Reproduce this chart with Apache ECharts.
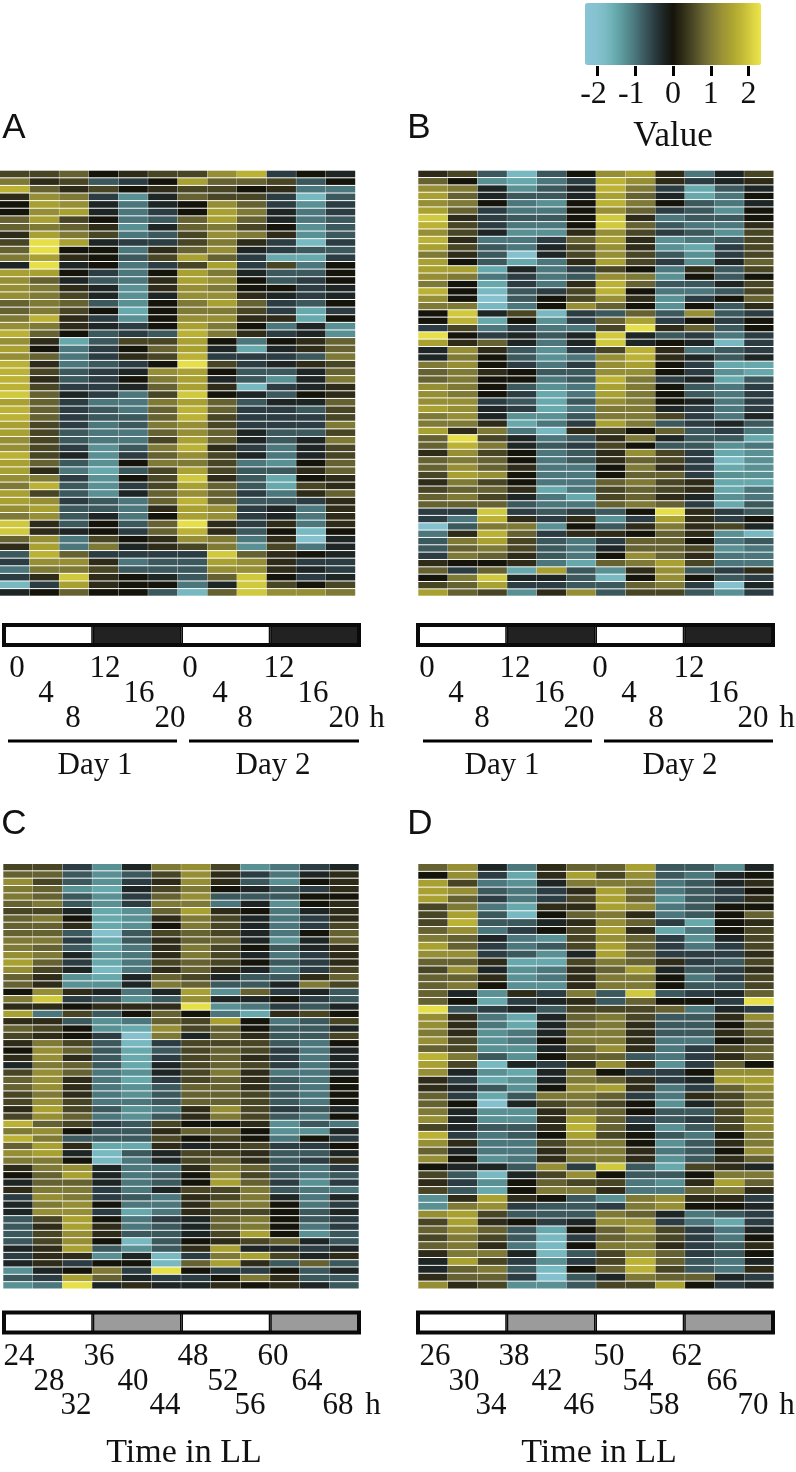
<!DOCTYPE html>
<html><head><meta charset="utf-8">
<script src="https://cdn.jsdelivr.net/npm/echarts@6/dist/echarts.min.js"></script>
<style>html,body{margin:0;padding:0;background:#fff}#c{width:796px;height:1472px}</style></head>
<body><div id="c"></div>
<script>
// Heat values are stored in quarter units (4 = a value of 1.0), one row per gene, 12 columns.
const panelA=[
[2,2,3,0,1,2,2,5,7,-2,0,-1],[4,1,2,-3,-2,0,6,3,3,2,-3,0],[7,3,1,2,0,1,2,2,0,1,-4,-4],[1,5,4,-2,-5,-1,3,2,2,-2,-7,-3],
[0,6,5,-1,-4,-1,0,5,3,-2,-5,-2],[0,5,6,-1,-4,-2,0,6,4,-1,-4,-2],[3,6,2,0,-4,-3,3,6,3,-1,-4,-3],[3,4,3,1,-5,-1,3,4,2,0,-5,-3],
[1,6,4,2,-4,-3,2,5,4,1,-5,-3],[2,9,6,-1,-2,-2,2,4,1,-2,-7,-2],[3,9,0,0,-4,1,3,5,-1,-2,-3,-3],[4,6,1,0,-3,2,6,3,-2,-6,-6,-2],
[-1,9,-1,0,-4,-2,2,6,-2,2,-4,0],[6,6,0,-2,-4,0,6,4,-1,-3,-3,0],[5,3,-1,-3,-4,1,6,5,0,-3,-2,0],[5,4,1,-1,-5,1,5,4,0,0,-2,-1],
[5,4,2,-1,-5,-1,5,5,1,-1,-2,-1],[3,4,3,-3,-5,0,4,6,3,-2,-3,0],[3,4,2,0,-6,0,4,4,2,-2,-6,-2],[4,7,1,-2,-5,0,5,5,1,1,-6,0],
[5,4,1,-1,-2,0,6,4,0,-4,-1,-5],[7,3,0,-3,-2,-3,7,4,1,-2,-1,-5],[5,1,-6,-3,2,2,6,0,-4,0,1,3],[6,0,-4,-2,0,3,6,-1,-6,-1,1,3],
[5,3,-4,-2,1,2,7,-2,-2,-2,-3,4],[7,1,-4,-3,-2,0,9,2,-2,-1,1,2],[7,2,-3,-2,-1,5,6,0,-3,-3,-1,3],[7,1,-3,-2,0,4,6,-1,-3,-5,-1,4],
[7,2,-2,-2,-1,3,6,1,-7,-2,-1,1],[8,3,-1,-2,-4,2,8,0,-1,-3,0,1],[6,3,-2,-4,-4,4,6,3,-3,-1,-1,3],[7,3,-2,-3,-4,3,7,3,-2,-2,-3,2],
[7,3,-2,-3,-3,3,7,2,-2,-2,-2,2],[6,2,-2,-4,-3,4,5,2,-2,-2,-2,4],[6,2,-3,-4,-4,3,5,3,-1,-3,-3,2],[5,2,-3,-4,-4,2,6,3,-1,-3,-1,4],
[5,2,-2,-5,-3,4,7,1,-2,-4,-1,2],[7,2,-1,-5,-2,3,5,2,-1,-4,-1,2],[6,3,-3,-5,0,4,4,2,-4,-5,0,3],[6,1,-4,-6,-3,2,6,2,-3,-3,1,3],
[5,4,-2,-5,0,2,8,1,-3,-6,0,1],[4,7,-3,-5,-2,2,6,3,-3,-6,2,1],[6,2,-3,-5,-1,3,5,3,-2,-4,1,3],[6,5,-2,-3,-4,3,7,3,-3,-3,-2,1],
[5,6,-3,-3,-4,1,6,5,-2,-1,-4,1],[4,5,-3,-1,-4,0,6,5,-2,-1,-4,1],[8,1,-3,0,-3,3,9,1,-2,1,-4,1],[8,1,-1,0,-2,3,7,1,-3,0,-7,0],
[3,5,-4,2,0,1,5,4,-4,1,-8,-1],[1,6,-4,4,-1,1,2,4,-5,2,-4,-1],[-3,7,3,-2,-2,-2,-2,8,3,1,0,-1],[-2,5,5,1,-4,-3,-3,6,5,1,-2,-2],
[-4,4,4,2,-3,-3,-3,5,5,1,-1,-2],[-2,1,8,1,0,-1,-3,3,8,0,-2,-1],[-7,-2,6,1,0,0,-4,-1,8,2,0,2],[-1,0,3,0,0,-3,-7,3,8,5,5,4]
];
const panelB=[
[1,2,-3,-7,-3,0,5,6,1,-4,-1,2],[3,0,-5,-6,-4,-2,7,5,1,-2,-1,1],[5,4,-1,-5,-3,-1,7,4,-2,-6,-3,-1],[6,3,-1,-3,-3,-1,6,3,-1,-6,-4,0],
[5,4,0,-4,-5,0,7,4,0,-3,-4,-1],[6,3,-2,-4,-4,0,5,3,-2,-3,-5,0],[8,1,-2,-3,-3,0,8,1,-4,-3,-3,0],[7,2,-2,-4,-4,0,8,3,-3,-4,-4,1],
[5,2,-1,-5,-5,1,5,2,-2,-3,-5,2],[7,1,-4,-4,-2,3,6,1,-5,-4,-3,2],[6,2,-3,-4,-1,2,5,1,-5,-6,-2,2],[4,1,-3,-8,-1,2,5,2,-3,-5,-2,2],
[6,0,-3,-6,-4,1,6,2,-2,-5,-1,3],[6,6,-6,-1,-4,-2,2,0,-4,1,-3,2],[5,4,-4,-2,-4,-3,5,4,-5,0,-3,0],[4,0,-6,-2,-4,1,7,3,-3,-3,-1,2],
[7,0,-7,-3,-2,2,7,0,-4,-4,-3,2],[5,0,-8,-3,0,2,5,1,-5,-2,0,3],[4,4,-7,-4,0,5,3,0,-5,0,-3,1],[0,8,-1,2,-7,-2,-3,3,-3,5,-3,-2],
[0,7,-6,0,-5,-2,3,6,-2,0,-2,0],[-2,2,-4,-2,-4,-4,2,9,1,3,-3,0],[9,0,-2,-1,-3,-1,8,-1,-3,-2,-4,-2],[6,1,3,-1,-4,-1,8,-1,0,-1,-7,-2],
[-1,5,1,-3,-5,-2,2,7,1,-4,-3,-2],[-1,4,0,-3,-5,-4,5,7,1,-1,-3,-1],[4,5,0,-2,-4,-2,5,6,0,-2,-6,-6],[3,4,1,0,-3,-3,5,5,0,-2,-5,-6],
[3,4,0,0,-4,-3,7,4,-2,-1,-6,-3],[5,4,0,-3,-5,-4,6,4,0,-3,-4,-2],[5,4,0,-2,-6,-4,6,4,0,-3,-4,-2],[5,5,-2,-3,-6,-3,5,4,0,-1,-4,-2],
[6,5,-1,-2,-6,-4,4,4,-1,-2,-4,-2],[4,5,-1,-5,-5,-3,4,4,2,-2,-4,-1],[4,4,1,-6,-4,-2,6,4,-3,-2,-1,-3],[6,1,4,-4,-7,1,2,0,3,-3,-2,-4],
[3,9,2,-1,-4,-3,1,4,-1,-3,-3,-6],[3,7,4,-1,-3,-2,2,0,-3,-3,-5,-4],[1,5,2,0,-4,-3,1,5,2,-2,-6,-5],[3,4,3,0,-4,-3,1,3,2,-2,-7,-5],
[3,5,3,1,-4,-4,0,4,1,-2,-6,-5],[2,6,5,0,-4,-4,0,3,3,-2,-5,-5],[1,4,2,0,-4,-4,3,4,2,1,-6,-6],[2,3,3,1,-6,-4,2,3,2,1,-6,-4],
[3,4,2,-1,-4,-6,2,3,1,-1,-5,-4],[3,3,3,-3,-4,-4,3,4,3,-2,-6,-3],[-2,-2,8,-2,-3,-2,-3,0,9,1,-2,-3],[-2,-4,7,1,-2,1,-5,-2,6,1,-2,0],
[-8,-3,4,4,-5,0,-3,1,4,1,2,-1],[-4,1,7,3,-2,1,1,0,3,1,-5,-7],[-3,4,6,2,-3,-4,-2,3,3,0,-4,-3],[-3,3,4,2,-3,-4,-1,3,3,2,-5,-4],
[-2,4,3,1,-3,-4,0,5,3,1,-4,-4],[1,0,0,1,-4,-6,3,4,6,2,-4,-4],[3,-2,3,-6,6,-3,-5,1,5,-3,-2,1],[0,4,8,-1,-1,-3,-7,0,5,0,-3,-2],
[2,3,6,-2,-2,-3,-3,3,4,-2,-8,-1],[6,3,2,-5,1,5,-3,2,2,-3,-5,-2]
];
const panelC=[
[2,2,-2,-5,-1,4,5,2,-5,-4,-2,-1],[3,3,-3,-5,-3,2,5,1,-2,-4,-1,1],[5,2,-3,-5,-2,1,5,1,-3,-5,0,1],[4,3,-5,-6,-1,2,4,0,-1,-3,-2,1],
[4,3,-3,-5,-2,3,5,-3,-3,-3,0,0],[3,4,-3,-5,-2,4,4,-4,-1,-5,0,1],[2,2,-1,-6,-5,3,6,1,0,-4,-1,1],[3,4,0,-6,-5,1,4,2,-1,-4,-2,1],
[3,3,1,-6,-5,0,4,2,-1,-4,-2,2],[3,3,-3,-8,-3,2,3,2,-1,-4,0,3],[4,4,-2,-6,-3,1,3,3,-1,-5,-1,3],[4,3,-3,-6,-4,1,4,2,0,-3,-1,1],
[5,4,-1,-5,-4,1,4,2,-1,-4,-2,1],[6,3,-2,-6,-4,2,3,2,0,-3,-2,1],[5,2,-1,-7,-4,1,3,1,-1,-4,-2,2],[3,1,-5,-6,-1,3,2,-1,-3,-3,1,3],
[3,1,-5,-5,-1,4,3,-3,-3,-1,4,2],[0,5,1,-1,-4,-1,6,-5,3,-2,-1,-3],[4,8,-2,-3,-5,-3,5,-1,-1,0,-2,-3],[1,1,0,1,1,1,9,-5,-4,-2,-3,-1],
[6,-4,2,-3,0,3,0,-4,-6,1,2,0],[1,1,-3,-5,-4,3,2,6,0,-4,-3,2],[3,2,0,-5,-6,5,2,3,0,-3,-3,-1],[2,1,0,-2,-8,4,-1,3,1,-3,-3,2],
[1,4,2,-3,-7,-2,2,2,2,-3,-4,0],[0,5,3,-3,-6,-3,2,3,2,-2,-4,-1],[1,5,1,-3,-6,-2,2,3,1,-2,-4,-1],[-1,4,3,-3,-6,-1,2,3,2,-2,-4,-1],
[2,5,3,-4,-5,-1,2,4,1,-4,-4,-1],[3,5,1,-4,-6,-2,2,3,1,-3,-4,0],[3,5,1,-4,-5,-3,3,3,1,-3,-4,0],[2,4,1,-4,-5,-3,3,3,2,-3,-4,0],
[2,5,2,-4,-4,-3,3,3,2,-3,-4,0],[1,6,2,-3,-5,-4,1,5,2,-2,-3,-1],[2,5,3,-4,-5,-3,1,4,2,-3,-4,0],[7,3,2,-2,-3,2,0,0,1,-5,-3,-4],
[4,5,0,-3,-3,1,3,3,0,-5,-5,-1],[7,4,-3,-3,-3,2,0,2,0,-4,0,-2],[3,6,1,-6,-6,1,-1,1,2,-2,-2,0],[5,6,-1,-7,-3,-1,2,2,1,-3,-3,-1],
[4,4,0,-7,-4,-1,2,3,1,-3,-2,1],[1,4,5,-1,-4,-4,1,4,3,-3,-4,-2],[0,3,6,-1,-4,-3,0,5,2,-3,-4,-3],[-1,3,3,-1,-4,-3,0,6,3,-2,-5,-2],
[1,4,4,-2,-4,-1,2,2,4,-3,-4,-4],[-2,5,4,-2,-3,-4,1,2,4,-1,-4,-1],[-1,4,5,0,-4,-4,1,4,4,0,-4,-2],[-1,5,5,-2,-6,-4,1,2,2,0,-3,-1],
[-3,2,6,0,-4,-2,-1,3,4,0,-3,-2],[-3,1,6,1,-4,-3,-1,3,4,0,-4,-2],[-3,2,5,1,-3,-3,-1,2,6,0,-5,-3],[-3,2,5,0,-7,-3,0,1,2,3,-1,-3],
[-1,1,6,-3,-5,-3,1,6,-1,-1,-2,-1],[-2,1,1,-5,-1,-7,-2,4,6,2,-1,1],[-1,1,-2,0,0,-7,3,6,1,-3,3,-3],[-5,-1,0,4,-2,9,0,-2,-2,0,-3,-1],
[-3,-2,6,3,-1,-2,-2,0,4,1,-3,-3],[-5,-4,9,-1,1,-1,-1,1,0,1,-1,-3]
];
const panelD=[
[3,5,-1,-4,1,3,3,6,-3,-3,-5,-1],[0,5,-2,-6,1,6,2,5,-3,-4,-1,0],[6,2,-4,-5,-1,4,4,4,-4,-3,-1,1],[6,5,-3,-4,-2,1,6,3,-4,-3,-2,0],
[6,3,-2,-4,-2,2,6,3,-5,-3,-2,1],[2,4,-4,-6,1,1,6,5,-4,-3,0,0],[2,6,-3,-7,0,3,4,1,-4,-3,0,3],[2,7,-3,-3,-1,1,5,3,-2,-6,0,1],
[3,5,-4,-2,0,2,6,1,-6,-4,0,2],[4,3,-1,-4,-5,2,5,3,-2,-5,-1,2],[6,3,-2,-4,-3,2,6,3,-2,-4,-2,2],[5,5,-2,-3,-5,-1,6,3,-2,-2,-2,1],
[3,3,1,-6,-6,2,4,3,1,-2,-3,2],[2,5,-1,-5,-4,1,3,6,-1,-3,-2,1],[3,3,1,-5,-4,1,4,4,0,-4,-2,2],[3,4,0,-5,-5,1,4,4,0,-3,-3,2],
[3,-1,-5,1,-2,4,-3,8,-3,-2,-1,3],[3,0,-6,-2,-1,1,-3,3,0,0,-2,9],[9,-3,-2,-1,-3,2,2,2,3,-4,-1,-2],[5,1,-4,-6,-1,3,4,2,-3,-3,1,5],
[5,1,-4,-6,-1,3,4,1,-3,-3,0,3],[4,1,-5,-4,-1,4,4,1,-3,-3,1,3],[5,2,-5,-4,0,4,4,1,-4,-4,0,2],[3,2,-5,-5,-1,3,5,1,-4,-2,2,3],
[7,4,-3,-5,0,3,3,-3,-4,-2,1,3],[6,2,-7,-1,-2,1,5,1,-5,-2,3,0],[5,-1,-5,-6,-1,4,0,-2,-2,0,5,5],[1,-2,-6,-5,-1,4,3,1,-2,-1,6,6],
[1,-1,-3,-5,0,5,6,1,-4,-2,3,5],[3,-2,-6,-3,4,4,3,-2,-4,1,2,4],[3,0,-8,-1,2,3,2,0,-5,-1,2,4],[4,-1,-5,-5,1,4,3,0,-3,-3,2,5],
[5,-1,-5,-5,1,6,3,-2,-3,-2,2,5],[2,-1,-3,-3,1,7,3,-1,-5,-3,2,5],[7,-2,-4,-3,0,6,2,0,-3,-4,0,4],[5,1,-4,-4,2,4,4,0,-5,-3,1,4],
[3,-1,-4,-4,1,4,4,1,-4,-3,0,5],[5,0,-5,-4,1,4,4,1,-5,-3,1,3],[0,-1,-1,-3,5,-2,8,-3,-6,2,1,-1],[2,-3,-7,-1,2,5,0,-3,-3,0,4,4],
[1,-2,-5,0,3,2,2,-4,-5,1,6,3],[2,-3,-6,0,4,4,1,-4,-4,3,4,1],[-5,1,6,1,0,-3,-5,4,5,1,1,-2],[-5,4,5,-2,-3,-3,-2,4,5,0,0,-1],
[5,6,2,-3,-3,-3,4,3,-1,-4,-3,-2],[2,6,1,0,-2,-1,5,5,-2,-4,-6,-2],[3,5,3,-3,-6,0,3,5,2,-2,-4,-1],[2,4,2,-3,-7,-2,3,4,2,-2,-4,0],
[3,4,1,-4,-7,0,4,4,1,-2,-3,1],[1,4,4,-1,-7,-3,2,5,3,-2,-3,0],[-1,6,2,-2,-5,-2,2,7,3,-3,-4,-1],[-1,3,4,-3,-7,0,3,7,2,-3,-4,1],
[1,3,3,-2,-8,-3,-1,4,3,3,-1,-2],[5,1,2,-5,-5,-3,2,2,6,0,-2,-1]
];
const ticksA=['0','4','8','12','16','20','0','4','8','12','16','20'];
const ticksC=['24','28','32','36','40','44','48','52','56','60','64','68'];
const ticksD=['26','30','34','38','42','46','50','54','58','62','66','70'];
const lightBlocks=[12,12,12,12];
const legendTicks=[-2,-1,0,1,2];
const panelLetters=['A','B','C','D'];

const ramp=['#88c4d4','#88c2d2','#7cbcc6','#69adb0','#5a9598','#4c7a80','#3d5b60','#2c3f44','#1e2626','#15140a',
 '#2f2c18','#4a4725','#686432','#827c36','#9a9235','#aca430','#c0b636','#d8d040','#ece54a'];
const SERIF='"Liberation Serif","Times New Roman",serif';
const layout=[
 {data:panelA,x:0,y:170.7,w:355.5,h:426,bx:4,by:625,dark:'#222222',letter:[14,127]},
 {data:panelB,x:418.3,y:170.7,w:355.5,h:426,bx:418,by:625,dark:'#222222',letter:[419,127]},
 {data:panelC,x:3.3,y:864,w:355.7,h:425.5,bx:4,by:1312.5,dark:'#9b9b9b',letter:[14,823]},
 {data:panelD,x:418.3,y:864,w:355.7,h:425.5,bx:418,by:1312.5,dark:'#9b9b9b',letter:[420,823]}
];
const grid=[],xAxis=[],yAxis=[],series=[],graphic=[];
function txt(text,x,y,size,fam){graphic.push({type:'text',x:x,y:y+1.5,silent:true,style:{text:text,fontFamily:fam||SERIF,fontSize:size||31,fill:'#111',align:'center',verticalAlign:'middle'}});}
function line(x1,x2,y){graphic.push({type:'line',silent:true,shape:{x1:x1,y1:y,x2:x2,y2:y},style:{stroke:'#000',lineWidth:3}});}

layout.forEach(function(p,i){
  grid.push({left:p.x,top:p.y,width:p.w,height:p.h,containLabel:false});
  xAxis.push({gridIndex:i,type:'category',show:false,data:ticksA.map(function(_,k){return k;})});
  yAxis.push({gridIndex:i,type:'category',show:false,inverse:true,data:p.data.map(function(_,k){return k;})});
  const d=[];
  p.data.forEach(function(row,r){row.forEach(function(v,c){d.push([c,r,v/4]);});});
  series.push({type:'custom',name:'Panel '+panelLetters[i],xAxisIndex:i,yAxisIndex:i,silent:true,data:d,
    encode:{x:0,y:1},dimensions:['col','row','value'],
    renderItem:function(params,api){
      const c=api.coord([api.value(0),api.value(1)]),s=api.size([1,1]);
      return {type:'rect',shape:{x:c[0]-s[0]/2,y:c[1]-s[1]/2,width:s[0]-0.3,height:s[1]-1},style:{fill:api.visual('color')}};
    }});
});
const heatIdx=[0,1,2,3];
layout.forEach(function(p,i){
  const gi=4+i;
  grid.push({left:p.bx,top:p.by,width:355,height:20,show:true,z:5,borderColor:'#0a0a0a',borderWidth:4,backgroundColor:'transparent'});
  xAxis.push({gridIndex:gi,type:'category',show:false,data:['a','b','c','d']});
  yAxis.push({gridIndex:gi,type:'value',show:false,min:0,max:12});
  series.push({type:'bar',xAxisIndex:gi,yAxisIndex:gi,silent:true,z:1,clip:false,barCategoryGap:0,barWidth:'100%',
    data:lightBlocks.map(function(v,k){return {value:v,itemStyle:{color:k%2?p.dark:'#fff',borderColor:'#0a0a0a',borderWidth:1.5}};})});
});
grid.push({left:585,top:65,width:176,height:1});
xAxis.push({gridIndex:8,type:'value',min:-2.33,max:2.33,position:'bottom',axisLine:{show:false},splitLine:{show:false},
  axisTick:{show:true,customValues:legendTicks,length:10,lineStyle:{color:'#000',width:3}},
  axisLabel:{show:true,customValues:legendTicks,margin:13,color:'#111',fontFamily:SERIF,fontSize:32,hideOverlap:false,showMinLabel:true,showMaxLabel:true,
    formatter:function(v){return v<0?v+' ':String(v);}}});
yAxis.push({gridIndex:8,type:'value',show:false});
series.push({type:'scatter',xAxisIndex:8,yAxisIndex:8,silent:true,data:[],symbolSize:0});

// tick label layout
const y3=[667,692,717], y3c=[1355,1380,1404];
const lvl=[0,1,2,0,1,2,0,1,2,0,1,2];
const xA=[17,46,73,105,139,170,190,220,245,279,313,344];
const xB=[427,456,482,515,549,579,600,629,656,689,723,753];
const xC=[19,49,76,99,133,165,193,223,250,273,307,338];
const xD=[435,464,491,514,547,579,609,638,664,687,722,753];
ticksA.forEach(function(t,k){txt(t,xA[k],y3[lvl[k]]);txt(t,xB[k],y3[lvl[k]]);});
ticksC.forEach(function(t,k){txt(t,xC[k],y3c[lvl[k]]);});
ticksD.forEach(function(t,k){txt(t,xD[k],y3c[lvl[k]]);});
txt('h',377,717);txt('h',787,717);txt('h',373,1404);txt('h',787,1404);
line(8,177,741);line(189,359,741);line(423,592,741);line(604,773,741);
txt('Day 1',95,764);txt('Day 2',273,764);txt('Day 1',502,764);txt('Day 2',680,764);
txt('Time in LL',184,1452,34);txt('Time in LL',599,1452,34);
txt('Value',673,135,35);
layout.forEach(function(p,i){txt(panelLetters[i],p.letter[0],p.letter[1],35,'"Liberation Sans",Arial,sans-serif');});

const chart=echarts.init(document.getElementById('c'),null,{renderer:'canvas'});
chart.setOption({animation:false,backgroundColor:'#fff',grid:grid,xAxis:xAxis,yAxis:yAxis,series:series,graphic:graphic,
  visualMap:[{type:'continuous',min:-2.33,max:2.33,dimension:2,seriesIndex:heatIdx,orient:'horizontal',left:585,top:3,padding:0,
    itemWidth:62,itemHeight:176,calculable:false,realtime:false,hoverLink:false,text:null,showLabel:false,
    inRange:{color:ramp},textStyle:{fontSize:0}}]});
</script></body></html>
